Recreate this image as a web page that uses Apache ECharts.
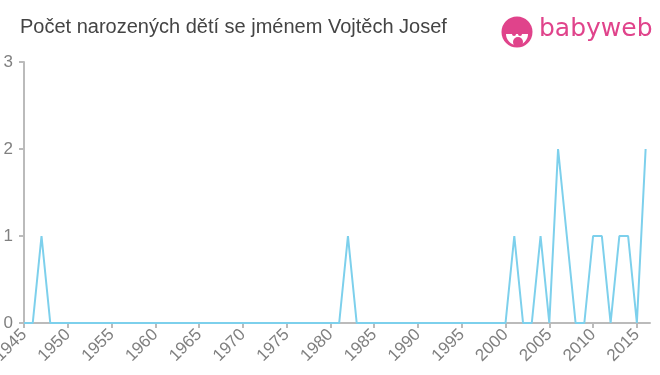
<!DOCTYPE html>
<html><head><meta charset="utf-8">
<script src="https://cdn.jsdelivr.net/npm/echarts@6/dist/echarts.min.js"></script>
<style>html,body{margin:0;padding:0;background:#fff}#c{width:660px;height:375px}</style>
</head><body><div id="c"></div>
<script>
var title = "Počet narozených dětí se jménem Vojtěch Josef";
var years = [];
for (var y = 1945; y <= 2016; y++) years.push(y);
var nonZeroYears = [1947, 1982, 2001, 2004, 2006, 2007, 2010, 2011, 2013, 2014, 2016];
var nonZeroValues = [1, 1, 1, 1, 2, 1, 1, 1, 1, 1, 2];
var yTicks = [0, 1, 2, 3];

var data = years.map(function (yr) {
  var i = nonZeroYears.indexOf(yr);
  return [yr, i >= 0 ? nonZeroValues[i] : 0];
});

var pink = '#e0438b';
var chart = echarts.init(document.getElementById('c'));
chart.setOption({
  animation: false,
  title: {
    text: title, left: 15, top: 12,
    textStyle: { fontFamily: 'Liberation Sans, Arial, sans-serif', fontSize: 20, fontWeight: 'normal', color: '#444' }
  },
  graphic: [
    { type: 'circle', shape: { cx: 517, cy: 32, r: 15.5 }, style: { fill: pink } },
    { type: 'sector', shape: { cx: 517, cy: 34, r0: 0, r: 11, startAngle: 0, endAngle: Math.PI, clockwise: true }, style: { fill: '#fff' } },
    { type: 'circle', shape: { cx: 514, cy: 34, r: 2 }, style: { fill: pink } },
    { type: 'circle', shape: { cx: 520, cy: 34, r: 2 }, style: { fill: pink } },
    { type: 'circle', shape: { cx: 518, cy: 42, r: 5 }, style: { fill: pink } },
    { type: 'text', left: 539, top: 17, style: { text: 'babyweb', fill: pink, font: '25px "DejaVu Sans", sans-serif' } }
  ],
  grid: { left: 24, right: 10, top: 62, bottom: 52, containLabel: false, outerBoundsMode: 'none' },
  xAxis: {
    type: 'value', min: 1945, max: 2016.5, interval: 5,
    axisLine: { lineStyle: { color: '#bbb', width: 2 } },
    axisTick: { show: true, length: 5, lineStyle: { color: '#bbb', width: 2 } },
    splitLine: { show: false },
    axisLabel: {
      rotate: 45, color: '#808080', fontSize: 17, fontFamily: 'Liberation Sans, Arial, sans-serif', margin: 9,
      showMaxLabel: false, hideOverlap: false,
      formatter: function (v) { return v % 5 === 0 ? String(v) : ''; }
    }
  },
  yAxis: {
    type: 'value', min: 0, max: 3, interval: 1,
    axisLine: { show: true, lineStyle: { color: '#bbb', width: 2 } },
    axisTick: { show: true, length: 5, lineStyle: { color: '#bbb', width: 2 } },
    splitLine: { show: false },
    axisLabel: { color: '#808080', fontSize: 17, fontFamily: 'Liberation Sans, Arial, sans-serif', margin: 11,
      formatter: function (v) { return yTicks.indexOf(v) >= 0 ? String(v) : ''; } }
  },
  series: [{
    type: 'line', data: data, showSymbol: false, symbol: 'none',
    lineStyle: { color: '#7dd0ec', width: 2 }
  }]
});
</script></body></html>
